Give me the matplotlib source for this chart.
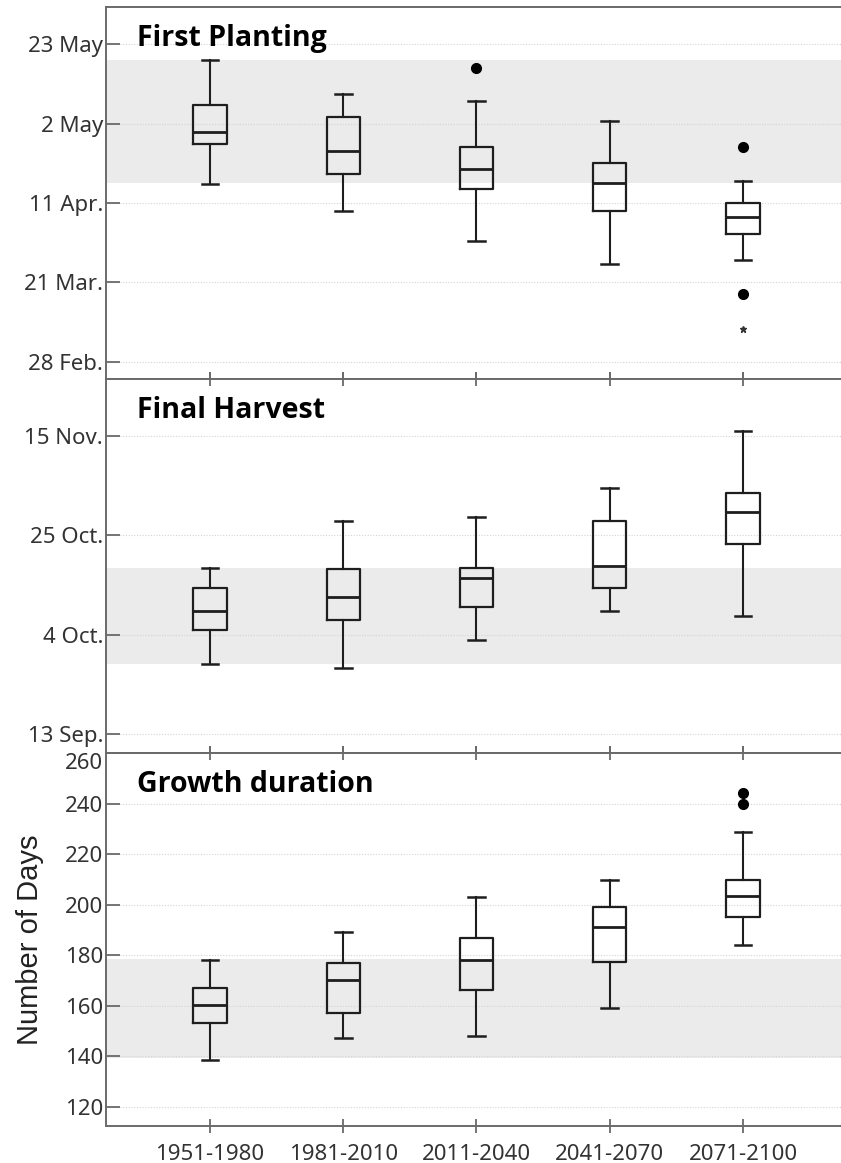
import matplotlib
matplotlib.use("Agg")
import matplotlib.pyplot as plt

# ---------------- data ----------------
periods = ["1951-1980", "1981-2010", "2011-2040", "2041-2070", "2071-2100"]

# First planting (day of year)
plant_whislo = [106.0, 98.9, 91.0, 85.0, 86.0]
plant_q1 = [116.7, 108.8, 104.8, 98.9, 92.9]
plant_med = [119.8, 114.8, 109.9, 106.4, 97.3]
plant_q3 = [126.9, 123.8, 115.8, 111.7, 100.9]
plant_whishi = [138.8, 129.8, 127.9, 122.7, 106.8]
plant_fliers = [[], [], [136.7], [], [115.8, 76.9]]
plant_extremes = [[], [], [], [], [67.8]]
plant_band = [106.2, 138.8]
plant_ticks = [59, 80, 101, 122, 143]
plant_ticklabels = ["28 Feb.", "21 Mar.", "11 Apr.", "2 May", "23 May"]

# Final harvest (day of year)
harv_whislo = [270.9, 269.9, 275.9, 281.9, 280.9]
harv_q1 = [277.9, 280.0, 282.9, 286.9, 296.1]
harv_med = [282.1, 284.9, 289.0, 291.5, 303.0]
harv_q3 = [286.9, 290.9, 291.0, 300.9, 306.9]
harv_whishi = [291.0, 301.0, 301.9, 308.0, 320.1]
harv_fliers = [[], [], [], [], []]
harv_extremes = [[], [], [], [], []]
harv_band = [270.8, 291.0]
harv_ticks = [256, 277, 298, 319]
harv_ticklabels = ["13 Sep.", "4 Oct.", "25 Oct.", "15 Nov."]

# Growth duration (days)
grow_whislo = [138.6, 147.1, 148.0, 159.0, 184.2]
grow_q1 = [153.1, 157.0, 166.2, 177.2, 195.2]
grow_med = [160.3, 170.1, 178.0, 191.0, 203.3]
grow_q3 = [167.1, 177.0, 186.9, 199.0, 209.9]
grow_whishi = [178.0, 189.1, 203.0, 209.9, 228.9]
grow_fliers = [[], [], [], [], [244.1, 240.0]]
grow_extremes = [[], [], [], [], []]
grow_band = [139.4, 178.3]
grow_ticks = [120, 140, 160, 180, 200, 220, 240, 260]
grow_ticklabels = ["120", "140", "160", "180", "200", "220", "240", "260"]

# ---------------- drawing ----------------
W, H = 841, 1163
fig = plt.figure(figsize=(W / 100, H / 100), dpi=100)

LABEL_FONT = "Noto Sans"
TITLE_FONT = "Open Sans"
TICK_COLOR = "#333333"
SPINE_COLOR = "#6a6a6a"

panels = [
    dict(title="First Planting", y0=7, y1=379, ylim=(54.5, 152.8),
         stats=(plant_whislo, plant_q1, plant_med, plant_q3, plant_whishi, plant_fliers),
         extremes=plant_extremes, band=plant_band, ticks=plant_ticks, labels=plant_ticklabels,
         top_ticks=False, xlabels=False, ylabel=None),
    dict(title="Final Harvest", y0=379, y1=753, ylim=(252.0, 331.0),
         stats=(harv_whislo, harv_q1, harv_med, harv_q3, harv_whishi, harv_fliers),
         extremes=harv_extremes, band=harv_band, ticks=harv_ticks, labels=harv_ticklabels,
         top_ticks=True, xlabels=False, ylabel=None),
    dict(title="Growth duration", y0=753, y1=1126, ylim=(112.4, 260.0),
         stats=(grow_whislo, grow_q1, grow_med, grow_q3, grow_whishi, grow_fliers),
         extremes=grow_extremes, band=grow_band, ticks=grow_ticks, labels=grow_ticklabels,
         top_ticks=True, xlabels=True, ylabel="Number of Days"),
]

left_px = 106
positions = list(range(1, len(periods) + 1))

for p in panels:
    ax = fig.add_axes([left_px / W, 1 - p["y1"] / H, 1 - left_px / W, (p["y1"] - p["y0"]) / H])
    ax.set_xlim(0.22, 5.735)
    ax.set_ylim(*p["ylim"])

    # shaded band
    ax.axhspan(p["band"][0], p["band"][1], color="#ebebeb", zorder=0, lw=0)

    # gridlines
    for t in p["ticks"]:
        ax.axhline(t, color="#d4d4d4", lw=0.8, ls=(0, (1, 1.5)), zorder=0.5)

    whislo, q1, med, q3, whishi, fl = p["stats"]
    stats = []
    for i in range(len(periods)):
        stats.append(dict(whislo=whislo[i], q1=q1[i], med=med[i], q3=q3[i],
                          whishi=whishi[i], fliers=fl[i], label=periods[i]))
    lc = "#1e1e1e"
    ax.bxp(stats, positions=positions, widths=0.25, showfliers=True,
           boxprops=dict(color=lc, lw=1.6),
           medianprops=dict(color=lc, lw=2.0),
           whiskerprops=dict(color=lc, lw=1.5),
           capprops=dict(color=lc, lw=1.8),
           flierprops=dict(marker="o", markerfacecolor="black", markeredgecolor="black",
                           markersize=7, linestyle="none"),
           manage_ticks=False, zorder=3)
    for i, ex in enumerate(p["extremes"]):
        if ex:
            ax.plot([positions[i]] * len(ex), ex, ls="none", marker="*", color="#333333",
                    markersize=5, zorder=3)

    # spines
    for s in ["left", "top", "bottom"]:
        ax.spines[s].set_color(SPINE_COLOR)
        ax.spines[s].set_linewidth(1.4)
    ax.spines["right"].set_visible(False)

    # y ticks
    ax.set_yticks(p["ticks"])
    ax.set_yticklabels(p["labels"], fontfamily=LABEL_FONT, fontsize=16, color=TICK_COLOR)
    ax.tick_params(axis="y", direction="in", length=10, width=1.3, color=SPINE_COLOR, pad=2)
    # label sitting on the top edge is pushed inside the panel
    if p["ticks"][-1] >= p["ylim"][1] - 1e-9:
        ax.get_yticklabels()[-1].set_verticalalignment("top")

    # x ticks
    ax.set_xticks(positions)
    if p["xlabels"]:
        ax.set_xticklabels(periods, fontfamily=LABEL_FONT, fontsize=16, color=TICK_COLOR)
    else:
        ax.set_xticklabels([])
    ax.tick_params(axis="x", direction="inout", length=10, width=1.3, color=SPINE_COLOR,
                   pad=8, top=p["top_ticks"], bottom=True)

    ax.text(0.042, 0.915, p["title"], transform=ax.transAxes, fontfamily=TITLE_FONT,
            fontweight="bold", fontsize=20.5, color="black", va="center", ha="left")

    if p["ylabel"]:
        ax.set_ylabel(p["ylabel"], fontfamily="Liberation Sans", fontsize=21, color="#222222",
                      labelpad=15)

fig.savefig("out.png", dpi=100)
